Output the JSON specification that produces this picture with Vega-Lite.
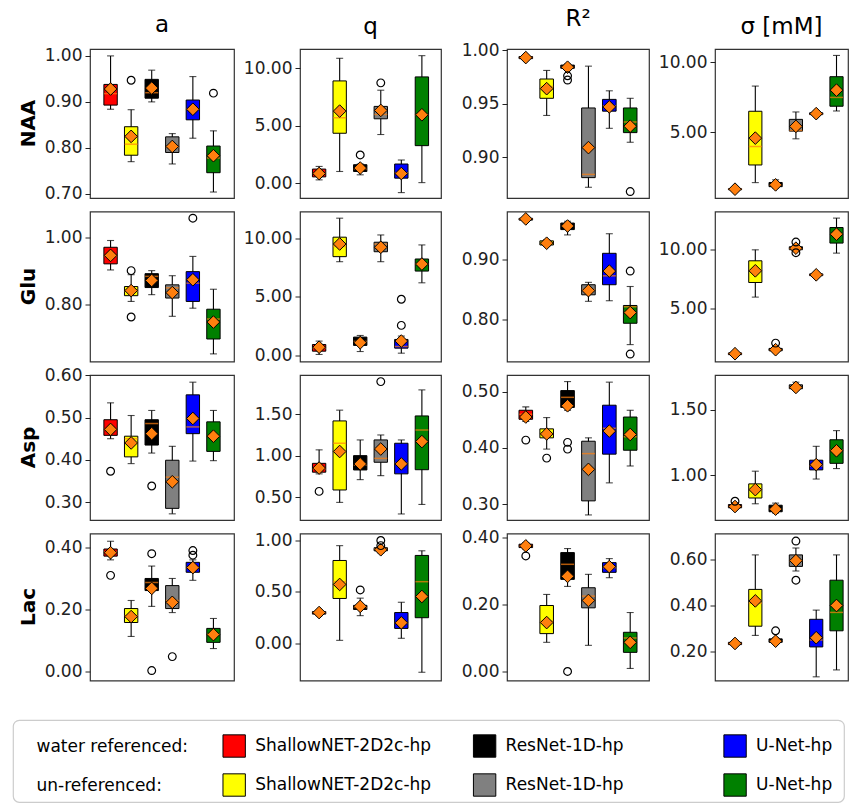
{
"$schema":"https://vega.github.io/schema/vega-lite/v6.json",
"padding":{"left":12,"top":7,"right":0,"bottom":3},
"data":{"values":[
{"an":"NAA","m":"a","k":"W-SN","lo":0.884,"q1":0.893,"md":0.918,"q3":0.938,"hi":1.0,"mn":0.928},
{"an":"NAA","m":"a","k":"U-SN","lo":0.770,"q1":0.784,"md":0.808,"q3":0.846,"hi":0.883,"mn":0.825},
{"an":"NAA","m":"a","k":"W-RN","lo":0.900,"q1":0.908,"md":0.920,"q3":0.949,"hi":0.969,"mn":0.930},
{"an":"NAA","m":"a","k":"U-RN","lo":0.765,"q1":0.790,"md":0.802,"q3":0.824,"hi":0.831,"mn":0.803},
{"an":"NAA","m":"a","k":"W-UN","lo":0.821,"q1":0.861,"md":0.884,"q3":0.904,"hi":0.955,"mn":0.884},
{"an":"NAA","m":"a","k":"U-UN","lo":0.704,"q1":0.746,"md":0.778,"q3":0.804,"hi":0.837,"mn":0.783},
{"an":"NAA","m":"a","k":"U-SN","v":0.947},
{"an":"NAA","m":"a","k":"U-UN","v":0.919},
{"an":"NAA","m":"q","k":"W-SN","lo":0.29,"q1":0.55,"md":0.85,"q3":1.23,"hi":1.46,"mn":0.84},
{"an":"NAA","m":"q","k":"U-SN","lo":1.02,"q1":4.35,"md":5.70,"q3":8.91,"hi":10.88,"mn":6.28},
{"an":"NAA","m":"q","k":"W-RN","lo":0.73,"q1":1.02,"md":1.25,"q3":1.61,"hi":1.67,"mn":1.32},
{"an":"NAA","m":"q","k":"U-RN","lo":4.24,"q1":5.61,"md":5.99,"q3":6.69,"hi":8.10,"mn":6.34},
{"an":"NAA","m":"q","k":"W-UN","lo":-0.82,"q1":0.44,"md":0.90,"q3":1.67,"hi":2.02,"mn":0.84},
{"an":"NAA","m":"q","k":"U-UN","lo":0.05,"q1":3.27,"md":5.96,"q3":9.26,"hi":11.11,"mn":5.96},
{"an":"NAA","m":"q","k":"W-RN","v":2.46},
{"an":"NAA","m":"q","k":"U-RN","v":8.74},
{"an":"NAA","m":"R2","k":"W-SN","lo":0.991,"q1":0.992,"md":0.993,"q3":0.994,"hi":0.995,"mn":0.993},
{"an":"NAA","m":"R2","k":"U-SN","lo":0.939,"q1":0.955,"md":0.966,"q3":0.973,"hi":0.981,"mn":0.964},
{"an":"NAA","m":"R2","k":"W-RN","lo":0.982,"q1":0.983,"md":0.984,"q3":0.986,"hi":0.987,"mn":0.984},
{"an":"NAA","m":"R2","k":"U-RN","lo":0.872,"q1":0.881,"md":0.884,"q3":0.946,"hi":0.985,"mn":0.909},
{"an":"NAA","m":"R2","k":"W-UN","lo":0.927,"q1":0.943,"md":0.948,"q3":0.954,"hi":0.962,"mn":0.947},
{"an":"NAA","m":"R2","k":"U-UN","lo":0.914,"q1":0.923,"md":0.933,"q3":0.946,"hi":0.955,"mn":0.929},
{"an":"NAA","m":"R2","k":"W-RN","v":0.976},
{"an":"NAA","m":"R2","k":"W-RN","v":0.972},
{"an":"NAA","m":"R2","k":"U-UN","v":0.868},
{"an":"NAA","m":"s","k":"W-SN","lo":0.85,"q1":0.88,"md":0.92,"q3":0.96,"hi":1.0,"mn":0.92},
{"an":"NAA","m":"s","k":"U-SN","lo":1.39,"q1":2.65,"md":3.97,"q3":6.49,"hi":8.29,"mn":4.57},
{"an":"NAA","m":"s","k":"W-RN","lo":1.0,"q1":1.1,"md":1.2,"q3":1.4,"hi":1.59,"mn":1.23},
{"an":"NAA","m":"s","k":"U-RN","lo":4.52,"q1":5.07,"md":5.12,"q3":5.91,"hi":6.44,"mn":5.41},
{"an":"NAA","m":"s","k":"W-UN","lo":6.2,"q1":6.25,"md":6.3,"q3":6.38,"hi":6.42,"mn":6.32},
{"an":"NAA","m":"s","k":"U-UN","lo":6.51,"q1":6.85,"md":7.48,"q3":8.96,"hi":10.48,"mn":8.0},
{"an":"Glu","m":"a","k":"W-SN","lo":0.903,"q1":0.921,"md":0.945,"q3":0.970,"hi":0.990,"mn":0.946},
{"an":"Glu","m":"a","k":"U-SN","lo":0.810,"q1":0.827,"md":0.840,"q3":0.854,"hi":0.889,"mn":0.842},
{"an":"Glu","m":"a","k":"W-RN","lo":0.830,"q1":0.851,"md":0.884,"q3":0.892,"hi":0.901,"mn":0.872},
{"an":"Glu","m":"a","k":"U-RN","lo":0.766,"q1":0.820,"md":0.850,"q3":0.859,"hi":0.886,"mn":0.836},
{"an":"Glu","m":"a","k":"W-UN","lo":0.790,"q1":0.810,"md":0.864,"q3":0.898,"hi":0.943,"mn":0.874},
{"an":"Glu","m":"a","k":"U-UN","lo":0.655,"q1":0.699,"md":0.758,"q3":0.787,"hi":0.846,"mn":0.749},
{"an":"Glu","m":"a","k":"U-SN","v":0.901},
{"an":"Glu","m":"a","k":"U-SN","v":0.764},
{"an":"Glu","m":"a","k":"W-UN","v":1.056},
{"an":"Glu","m":"q","k":"W-SN","lo":0.09,"q1":0.37,"md":0.65,"q3":0.94,"hi":1.23,"mn":0.71},
{"an":"Glu","m":"q","k":"U-SN","lo":8.0,"q1":8.43,"md":9.3,"q3":10.09,"hi":11.71,"mn":9.51},
{"an":"Glu","m":"q","k":"W-RN","lo":0.34,"q1":0.86,"md":1.2,"q3":1.57,"hi":1.71,"mn":1.09},
{"an":"Glu","m":"q","k":"U-RN","lo":8.0,"q1":8.85,"md":9.5,"q3":9.66,"hi":10.28,"mn":9.23},
{"an":"Glu","m":"q","k":"W-UN","lo":0.20,"q1":0.63,"md":0.77,"q3":1.37,"hi":1.66,"mn":1.23},
{"an":"Glu","m":"q","k":"U-UN","lo":6.2,"q1":7.2,"md":7.8,"q3":8.23,"hi":9.43,"mn":7.80},
{"an":"Glu","m":"q","k":"W-UN","v":4.80},
{"an":"Glu","m":"q","k":"W-UN","v":2.57},
{"an":"Glu","m":"R2","k":"W-SN","lo":0.966,"q1":0.967,"md":0.969,"q3":0.970,"hi":0.971,"mn":0.969},
{"an":"Glu","m":"R2","k":"U-SN","lo":0.923,"q1":0.925,"md":0.928,"q3":0.932,"hi":0.934,"mn":0.928},
{"an":"Glu","m":"R2","k":"W-RN","lo":0.942,"q1":0.951,"md":0.957,"q3":0.962,"hi":0.965,"mn":0.957},
{"an":"Glu","m":"R2","k":"U-RN","lo":0.830,"q1":0.841,"md":0.850,"q3":0.858,"hi":0.862,"mn":0.848},
{"an":"Glu","m":"R2","k":"W-UN","lo":0.831,"q1":0.858,"md":0.873,"q3":0.911,"hi":0.944,"mn":0.881},
{"an":"Glu","m":"R2","k":"U-UN","lo":0.757,"q1":0.793,"md":0.821,"q3":0.823,"hi":0.855,"mn":0.811},
{"an":"Glu","m":"R2","k":"U-UN","v":0.881},
{"an":"Glu","m":"R2","k":"U-UN","v":0.741},
{"an":"Glu","m":"s","k":"W-SN","lo":1.0,"q1":1.05,"md":1.13,"q3":1.2,"hi":1.25,"mn":1.13},
{"an":"Glu","m":"s","k":"U-SN","lo":5.93,"q1":7.17,"md":8.2,"q3":9.01,"hi":9.94,"mn":8.16},
{"an":"Glu","m":"s","k":"W-RN","lo":1.3,"q1":1.38,"md":1.47,"q3":1.58,"hi":1.65,"mn":1.47},
{"an":"Glu","m":"s","k":"U-RN","lo":9.85,"q1":9.95,"md":10.05,"q3":10.2,"hi":10.3,"mn":10.08},
{"an":"Glu","m":"s","k":"W-UN","lo":7.7,"q1":7.75,"md":7.82,"q3":7.9,"hi":7.95,"mn":7.82},
{"an":"Glu","m":"s","k":"U-UN","lo":9.66,"q1":10.51,"md":11.3,"q3":11.83,"hi":12.63,"mn":11.27},
{"an":"Glu","m":"s","k":"W-RN","v":2.03},
{"an":"Glu","m":"s","k":"U-RN","v":10.6},
{"an":"Glu","m":"s","k":"U-RN","v":9.7},
{"an":"Asp","m":"a","k":"W-SN","lo":0.450,"q1":0.458,"md":0.472,"q3":0.495,"hi":0.535,"mn":0.472},
{"an":"Asp","m":"a","k":"U-SN","lo":0.391,"q1":0.407,"md":0.450,"q3":0.456,"hi":0.505,"mn":0.440},
{"an":"Asp","m":"a","k":"W-RN","lo":0.416,"q1":0.435,"md":0.486,"q3":0.495,"hi":0.517,"mn":0.462},
{"an":"Asp","m":"a","k":"U-RN","lo":0.272,"q1":0.285,"md":0.359,"q3":0.399,"hi":0.432,"mn":0.348},
{"an":"Asp","m":"a","k":"W-UN","lo":0.397,"q1":0.462,"md":0.478,"q3":0.554,"hi":0.584,"mn":0.498},
{"an":"Asp","m":"a","k":"U-UN","lo":0.398,"q1":0.420,"md":0.456,"q3":0.490,"hi":0.517,"mn":0.456},
{"an":"Asp","m":"a","k":"W-SN","v":0.373},
{"an":"Asp","m":"a","k":"W-RN","v":0.338},
{"an":"Asp","m":"q","k":"W-SN","lo":0.78,"q1":0.80,"md":0.84,"q3":0.907,"hi":1.07,"mn":0.85},
{"an":"Asp","m":"q","k":"U-SN","lo":0.435,"q1":0.585,"md":1.15,"q3":1.42,"hi":1.55,"mn":1.05},
{"an":"Asp","m":"q","k":"W-RN","lo":0.71,"q1":0.827,"md":0.887,"q3":1.0,"hi":1.19,"mn":0.90},
{"an":"Asp","m":"q","k":"U-RN","lo":0.758,"q1":0.92,"md":0.967,"q3":1.19,"hi":1.25,"mn":1.08},
{"an":"Asp","m":"q","k":"W-UN","lo":0.295,"q1":0.78,"md":0.907,"q3":1.15,"hi":1.19,"mn":0.90},
{"an":"Asp","m":"q","k":"U-UN","lo":0.41,"q1":0.83,"md":1.31,"q3":1.48,"hi":1.795,"mn":1.17},
{"an":"Asp","m":"q","k":"W-SN","v":0.568},
{"an":"Asp","m":"q","k":"U-RN","v":1.895},
{"an":"Asp","m":"R2","k":"W-SN","lo":0.447,"q1":0.451,"md":0.460,"q3":0.467,"hi":0.473,"mn":0.455},
{"an":"Asp","m":"R2","k":"U-SN","lo":0.398,"q1":0.418,"md":0.425,"q3":0.434,"hi":0.454,"mn":0.425},
{"an":"Asp","m":"R2","k":"W-RN","lo":0.467,"q1":0.472,"md":0.490,"q3":0.502,"hi":0.518,"mn":0.475},
{"an":"Asp","m":"R2","k":"U-RN","lo":0.281,"q1":0.306,"md":0.390,"q3":0.412,"hi":0.418,"mn":0.362},
{"an":"Asp","m":"R2","k":"W-UN","lo":0.338,"q1":0.389,"md":0.435,"q3":0.476,"hi":0.517,"mn":0.430},
{"an":"Asp","m":"R2","k":"U-UN","lo":0.368,"q1":0.396,"md":0.420,"q3":0.455,"hi":0.467,"mn":0.424},
{"an":"Asp","m":"R2","k":"W-SN","v":0.414},
{"an":"Asp","m":"R2","k":"U-SN","v":0.382},
{"an":"Asp","m":"R2","k":"W-RN","v":0.410},
{"an":"Asp","m":"R2","k":"W-RN","v":0.398},
{"an":"Asp","m":"s","k":"W-SN","lo":0.745,"q1":0.75,"md":0.76,"q3":0.775,"hi":0.785,"mn":0.76},
{"an":"Asp","m":"s","k":"U-SN","lo":0.781,"q1":0.825,"md":0.89,"q3":0.933,"hi":1.03,"mn":0.889},
{"an":"Asp","m":"s","k":"W-RN","lo":0.71,"q1":0.72,"md":0.74,"q3":0.77,"hi":0.786,"mn":0.74},
{"an":"Asp","m":"s","k":"U-RN","lo":1.65,"q1":1.66,"md":1.67,"q3":1.69,"hi":1.71,"mn":1.67},
{"an":"Asp","m":"s","k":"W-UN","lo":0.97,"q1":1.04,"md":1.07,"q3":1.114,"hi":1.22,"mn":1.08},
{"an":"Asp","m":"s","k":"U-UN","lo":1.05,"q1":1.09,"md":1.19,"q3":1.27,"hi":1.34,"mn":1.186},
{"an":"Asp","m":"s","k":"W-SN","v":0.80},
{"an":"Lac","m":"a","k":"W-SN","lo":0.36,"q1":0.372,"md":0.385,"q3":0.395,"hi":0.42,"mn":0.383},
{"an":"Lac","m":"a","k":"U-SN","lo":0.113,"q1":0.158,"md":0.18,"q3":0.203,"hi":0.229,"mn":0.177},
{"an":"Lac","m":"a","k":"W-RN","lo":0.21,"q1":0.261,"md":0.287,"q3":0.30,"hi":0.34,"mn":0.268},
{"an":"Lac","m":"a","k":"U-RN","lo":0.19,"q1":0.203,"md":0.229,"q3":0.277,"hi":0.30,"mn":0.223},
{"an":"Lac","m":"a","k":"W-UN","lo":0.294,"q1":0.32,"md":0.335,"q3":0.352,"hi":0.36,"mn":0.335},
{"an":"Lac","m":"a","k":"U-UN","lo":0.074,"q1":0.094,"md":0.12,"q3":0.139,"hi":0.171,"mn":0.119},
{"an":"Lac","m":"a","k":"W-SN","v":0.31},
{"an":"Lac","m":"a","k":"W-RN","v":0.38},
{"an":"Lac","m":"a","k":"W-RN","v":0.003},
{"an":"Lac","m":"a","k":"U-RN","v":0.048},
{"an":"Lac","m":"a","k":"W-UN","v":0.39},
{"an":"Lac","m":"a","k":"W-UN","v":0.375},
{"an":"Lac","m":"q","k":"W-SN","lo":0.27,"q1":0.285,"md":0.30,"q3":0.31,"hi":0.32,"mn":0.30},
{"an":"Lac","m":"q","k":"U-SN","lo":0.03,"q1":0.437,"md":0.6,"q3":0.806,"hi":0.95,"mn":0.573},
{"an":"Lac","m":"q","k":"W-RN","lo":0.27,"q1":0.33,"md":0.35,"q3":0.37,"hi":0.44,"mn":0.36},
{"an":"Lac","m":"q","k":"U-RN","lo":0.88,"q1":0.90,"md":0.915,"q3":0.93,"hi":0.94,"mn":0.91},
{"an":"Lac","m":"q","k":"W-UN","lo":0.05,"q1":0.146,"md":0.2,"q3":0.30,"hi":0.40,"mn":0.20},
{"an":"Lac","m":"q","k":"U-UN","lo":-0.28,"q1":0.25,"md":0.6,"q3":0.855,"hi":0.90,"mn":0.456},
{"an":"Lac","m":"q","k":"W-RN","v":0.52},
{"an":"Lac","m":"q","k":"U-RN","v":1.0},
{"an":"Lac","m":"q","k":"U-RN","v":0.95},
{"an":"Lac","m":"R2","k":"W-SN","lo":0.365,"q1":0.37,"md":0.375,"q3":0.38,"hi":0.385,"mn":0.375},
{"an":"Lac","m":"R2","k":"U-SN","lo":0.087,"q1":0.113,"md":0.15,"q3":0.197,"hi":0.23,"mn":0.146},
{"an":"Lac","m":"R2","k":"W-RN","lo":0.254,"q1":0.275,"md":0.32,"q3":0.355,"hi":0.367,"mn":0.284},
{"an":"Lac","m":"R2","k":"U-RN","lo":0.078,"q1":0.19,"md":0.225,"q3":0.25,"hi":0.29,"mn":0.212},
{"an":"Lac","m":"R2","k":"W-UN","lo":0.28,"q1":0.296,"md":0.31,"q3":0.325,"hi":0.337,"mn":0.313},
{"an":"Lac","m":"R2","k":"U-UN","lo":0.009,"q1":0.057,"md":0.1,"q3":0.117,"hi":0.176,"mn":0.087},
{"an":"Lac","m":"R2","k":"W-SN","v":0.345},
{"an":"Lac","m":"R2","k":"W-RN","v":0.0},
{"an":"Lac","m":"s","k":"W-SN","lo":0.225,"q1":0.23,"md":0.235,"q3":0.24,"hi":0.245,"mn":0.235},
{"an":"Lac","m":"s","k":"U-SN","lo":0.27,"q1":0.31,"md":0.41,"q3":0.47,"hi":0.62,"mn":0.42},
{"an":"Lac","m":"s","k":"W-RN","lo":0.235,"q1":0.24,"md":0.245,"q3":0.255,"hi":0.26,"mn":0.245},
{"an":"Lac","m":"s","k":"U-RN","lo":0.55,"q1":0.57,"md":0.595,"q3":0.62,"hi":0.65,"mn":0.595},
{"an":"Lac","m":"s","k":"W-UN","lo":0.09,"q1":0.22,"md":0.25,"q3":0.34,"hi":0.38,"mn":0.26},
{"an":"Lac","m":"s","k":"U-UN","lo":0.12,"q1":0.29,"md":0.37,"q3":0.51,"hi":0.62,"mn":0.40},
{"an":"Lac","m":"s","k":"W-RN","v":0.29},
{"an":"Lac","m":"s","k":"U-RN","v":0.68},
{"an":"Lac","m":"s","k":"U-RN","v":0.51}
]},
"spacing":37,
"vconcat":[
{"columns":5,"align":"each","bounds":"flush","spacing":{"row":13.5,"column":66},
"concat":[
{"width":11,"height":149,"view":{"stroke":null},"data":{"values":[{"t":"NAA"}]},"mark":{"type":"text","angle":270,"fontSize":20,"fontWeight":"bold","baseline":"top","align":"center","color":"#000"},"encoding":{"text":{"field":"t","type":"nominal"}}},
{"width":144,"height":149,"title":{"text":"a"},"transform":[{"filter":"datum.an=='NAA'&&datum.m=='a'"}],
"encoding":{"x":{"field":"k","type":"nominal","scale":{"domain":["W-SN","U-SN","W-RN","U-RN","W-UN","U-UN"],"paddingInner":0,"paddingOuter":0.5},"axis":null}},
"layer":[
{"mark":{"type":"rule","color":"#000","strokeWidth":1.1},"encoding":{"y":{"field":"lo","type":"quantitative","scale":{"domain":[0.691,1.015],"nice":false,"zero":false},"axis":{"values":[0.7,0.8,0.9,1.0],"title":null}},"y2":{"field":"hi"}}},
{"mark":{"type":"tick","color":"#000","size":7,"thickness":1.1},"encoding":{"y":{"field":"lo","type":"quantitative"}}},
{"mark":{"type":"tick","color":"#000","size":7,"thickness":1.1},"encoding":{"y":{"field":"hi","type":"quantitative"}}},
{"mark":{"type":"bar","width":{"band":0.65},"stroke":"#000","strokeWidth":1},"encoding":{"y":{"field":"q1","type":"quantitative"},"y2":{"field":"q3"},"fill":{"field":"k","type":"nominal","scale":{"domain":["W-SN","U-SN","W-RN","U-RN","W-UN","U-UN"],"range":["#ff0000","#ffff00","#000000","#808080","#0000ff","#008000"]},"legend":null}}},
{"mark":{"type":"tick","color":"#ff7f0e","size":13,"thickness":1.5},"encoding":{"y":{"field":"md","type":"quantitative"}}},
{"mark":{"type":"point","shape":"diamond","filled":true,"fill":"#ff7f0e","stroke":"#000","strokeWidth":1,"size":160,"opacity":1},"encoding":{"y":{"field":"mn","type":"quantitative"}}},
{"mark":{"type":"point","shape":"circle","filled":false,"stroke":"#000","strokeWidth":1.2,"size":60,"opacity":1},"encoding":{"y":{"field":"v","type":"quantitative"}}}
]},
{"width":141,"height":149,"title":{"text":"q"},"transform":[{"filter":"datum.an=='NAA'&&datum.m=='q'"}],
"encoding":{"x":{"field":"k","type":"nominal","scale":{"domain":["W-SN","U-SN","W-RN","U-RN","W-UN","U-UN"],"paddingInner":0,"paddingOuter":0.43},"axis":null}},
"layer":[
{"mark":{"type":"rule","color":"#000","strokeWidth":1.1},"encoding":{"y":{"field":"lo","type":"quantitative","scale":{"domain":[-1.29,11.69],"nice":false,"zero":false},"axis":{"values":[0,5,10],"title":null}},"y2":{"field":"hi"}}},
{"mark":{"type":"tick","color":"#000","size":7,"thickness":1.1},"encoding":{"y":{"field":"lo","type":"quantitative"}}},
{"mark":{"type":"tick","color":"#000","size":7,"thickness":1.1},"encoding":{"y":{"field":"hi","type":"quantitative"}}},
{"mark":{"type":"bar","width":{"band":0.65},"stroke":"#000","strokeWidth":1},"encoding":{"y":{"field":"q1","type":"quantitative"},"y2":{"field":"q3"},"fill":{"field":"k","type":"nominal","scale":{"domain":["W-SN","U-SN","W-RN","U-RN","W-UN","U-UN"],"range":["#ff0000","#ffff00","#000000","#808080","#0000ff","#008000"]},"legend":null}}},
{"mark":{"type":"tick","color":"#ff7f0e","size":13,"thickness":1.5},"encoding":{"y":{"field":"md","type":"quantitative"}}},
{"mark":{"type":"point","shape":"diamond","filled":true,"fill":"#ff7f0e","stroke":"#000","strokeWidth":1,"size":160,"opacity":1},"encoding":{"y":{"field":"mn","type":"quantitative"}}},
{"mark":{"type":"point","shape":"circle","filled":false,"stroke":"#000","strokeWidth":1.2,"size":60,"opacity":1},"encoding":{"y":{"field":"v","type":"quantitative"}}}
]},
{"width":142,"height":149,"title":{"text":"R²"},"transform":[{"filter":"datum.an=='NAA'&&datum.m=='R2'"}],
"encoding":{"x":{"field":"k","type":"nominal","scale":{"domain":["W-SN","U-SN","W-RN","U-RN","W-UN","U-UN"],"paddingInner":0,"paddingOuter":0.4},"axis":null}},
"layer":[
{"mark":{"type":"rule","color":"#000","strokeWidth":1.1},"encoding":{"y":{"field":"lo","type":"quantitative","scale":{"domain":[0.862,1.001],"nice":false,"zero":false},"axis":{"values":[0.9,0.95,1.0],"title":null}},"y2":{"field":"hi"}}},
{"mark":{"type":"tick","color":"#000","size":7,"thickness":1.1},"encoding":{"y":{"field":"lo","type":"quantitative"}}},
{"mark":{"type":"tick","color":"#000","size":7,"thickness":1.1},"encoding":{"y":{"field":"hi","type":"quantitative"}}},
{"mark":{"type":"bar","width":{"band":0.65},"stroke":"#000","strokeWidth":1},"encoding":{"y":{"field":"q1","type":"quantitative"},"y2":{"field":"q3"},"fill":{"field":"k","type":"nominal","scale":{"domain":["W-SN","U-SN","W-RN","U-RN","W-UN","U-UN"],"range":["#ff0000","#ffff00","#000000","#808080","#0000ff","#008000"]},"legend":null}}},
{"mark":{"type":"tick","color":"#ff7f0e","size":13,"thickness":1.5},"encoding":{"y":{"field":"md","type":"quantitative"}}},
{"mark":{"type":"point","shape":"diamond","filled":true,"fill":"#ff7f0e","stroke":"#000","strokeWidth":1,"size":160,"opacity":1},"encoding":{"y":{"field":"mn","type":"quantitative"}}},
{"mark":{"type":"point","shape":"circle","filled":false,"stroke":"#000","strokeWidth":1.2,"size":60,"opacity":1},"encoding":{"y":{"field":"v","type":"quantitative"}}}
]},
{"width":133,"height":149,"title":{"text":"σ [mM]"},"transform":[{"filter":"datum.an=='NAA'&&datum.m=='s'"}],
"encoding":{"x":{"field":"k","type":"nominal","scale":{"domain":["W-SN","U-SN","W-RN","U-RN","W-UN","U-UN"],"paddingInner":0,"paddingOuter":0.276,"align":0.88},"axis":null}},
"layer":[
{"mark":{"type":"rule","color":"#000","strokeWidth":1.1},"encoding":{"y":{"field":"lo","type":"quantitative","scale":{"domain":[0.29,10.94],"nice":false,"zero":false},"axis":{"values":[5,10],"title":null}},"y2":{"field":"hi"}}},
{"mark":{"type":"tick","color":"#000","size":7,"thickness":1.1},"encoding":{"y":{"field":"lo","type":"quantitative"}}},
{"mark":{"type":"tick","color":"#000","size":7,"thickness":1.1},"encoding":{"y":{"field":"hi","type":"quantitative"}}},
{"mark":{"type":"bar","width":{"band":0.65},"stroke":"#000","strokeWidth":1},"encoding":{"y":{"field":"q1","type":"quantitative"},"y2":{"field":"q3"},"fill":{"field":"k","type":"nominal","scale":{"domain":["W-SN","U-SN","W-RN","U-RN","W-UN","U-UN"],"range":["#ff0000","#ffff00","#000000","#808080","#0000ff","#008000"]},"legend":null}}},
{"mark":{"type":"tick","color":"#ff7f0e","size":13,"thickness":1.5},"encoding":{"y":{"field":"md","type":"quantitative"}}},
{"mark":{"type":"point","shape":"diamond","filled":true,"fill":"#ff7f0e","stroke":"#000","strokeWidth":1,"size":160,"opacity":1},"encoding":{"y":{"field":"mn","type":"quantitative"}}},
{"mark":{"type":"point","shape":"circle","filled":false,"stroke":"#000","strokeWidth":1.2,"size":60,"opacity":1},"encoding":{"y":{"field":"v","type":"quantitative"}}}
]},
{"width":11,"height":150,"view":{"stroke":null},"data":{"values":[{"t":"Glu"}]},"mark":{"type":"text","angle":270,"fontSize":20,"fontWeight":"bold","baseline":"top","align":"center","color":"#000"},"encoding":{"text":{"field":"t","type":"nominal"}}},
{"width":144,"height":150,"transform":[{"filter":"datum.an=='Glu'&&datum.m=='a'"}],
"encoding":{"x":{"field":"k","type":"nominal","scale":{"domain":["W-SN","U-SN","W-RN","U-RN","W-UN","U-UN"],"paddingInner":0,"paddingOuter":0.5},"axis":null}},
"layer":[
{"mark":{"type":"rule","color":"#000","strokeWidth":1.1},"encoding":{"y":{"field":"lo","type":"quantitative","scale":{"domain":[0.6325,1.0757],"nice":false,"zero":false},"axis":{"values":[0.8,1.0],"title":null}},"y2":{"field":"hi"}}},
{"mark":{"type":"tick","color":"#000","size":7,"thickness":1.1},"encoding":{"y":{"field":"lo","type":"quantitative"}}},
{"mark":{"type":"tick","color":"#000","size":7,"thickness":1.1},"encoding":{"y":{"field":"hi","type":"quantitative"}}},
{"mark":{"type":"bar","width":{"band":0.65},"stroke":"#000","strokeWidth":1},"encoding":{"y":{"field":"q1","type":"quantitative"},"y2":{"field":"q3"},"fill":{"field":"k","type":"nominal","scale":{"domain":["W-SN","U-SN","W-RN","U-RN","W-UN","U-UN"],"range":["#ff0000","#ffff00","#000000","#808080","#0000ff","#008000"]},"legend":null}}},
{"mark":{"type":"tick","color":"#ff7f0e","size":13,"thickness":1.5},"encoding":{"y":{"field":"md","type":"quantitative"}}},
{"mark":{"type":"point","shape":"diamond","filled":true,"fill":"#ff7f0e","stroke":"#000","strokeWidth":1,"size":160,"opacity":1},"encoding":{"y":{"field":"mn","type":"quantitative"}}},
{"mark":{"type":"point","shape":"circle","filled":false,"stroke":"#000","strokeWidth":1.2,"size":60,"opacity":1},"encoding":{"y":{"field":"v","type":"quantitative"}}}
]},
{"width":141,"height":150,"transform":[{"filter":"datum.an=='Glu'&&datum.m=='q'"}],
"encoding":{"x":{"field":"k","type":"nominal","scale":{"domain":["W-SN","U-SN","W-RN","U-RN","W-UN","U-UN"],"paddingInner":0,"paddingOuter":0.43},"axis":null}},
"layer":[
{"mark":{"type":"rule","color":"#000","strokeWidth":1.1},"encoding":{"y":{"field":"lo","type":"quantitative","scale":{"domain":[-0.51,12.28],"nice":false,"zero":false},"axis":{"values":[0,5,10],"title":null}},"y2":{"field":"hi"}}},
{"mark":{"type":"tick","color":"#000","size":7,"thickness":1.1},"encoding":{"y":{"field":"lo","type":"quantitative"}}},
{"mark":{"type":"tick","color":"#000","size":7,"thickness":1.1},"encoding":{"y":{"field":"hi","type":"quantitative"}}},
{"mark":{"type":"bar","width":{"band":0.65},"stroke":"#000","strokeWidth":1},"encoding":{"y":{"field":"q1","type":"quantitative"},"y2":{"field":"q3"},"fill":{"field":"k","type":"nominal","scale":{"domain":["W-SN","U-SN","W-RN","U-RN","W-UN","U-UN"],"range":["#ff0000","#ffff00","#000000","#808080","#0000ff","#008000"]},"legend":null}}},
{"mark":{"type":"tick","color":"#ff7f0e","size":13,"thickness":1.5},"encoding":{"y":{"field":"md","type":"quantitative"}}},
{"mark":{"type":"point","shape":"diamond","filled":true,"fill":"#ff7f0e","stroke":"#000","strokeWidth":1,"size":160,"opacity":1},"encoding":{"y":{"field":"mn","type":"quantitative"}}},
{"mark":{"type":"point","shape":"circle","filled":false,"stroke":"#000","strokeWidth":1.2,"size":60,"opacity":1},"encoding":{"y":{"field":"v","type":"quantitative"}}}
]},
{"width":142,"height":150,"transform":[{"filter":"datum.an=='Glu'&&datum.m=='R2'"}],
"encoding":{"x":{"field":"k","type":"nominal","scale":{"domain":["W-SN","U-SN","W-RN","U-RN","W-UN","U-UN"],"paddingInner":0,"paddingOuter":0.4},"axis":null}},
"layer":[
{"mark":{"type":"rule","color":"#000","strokeWidth":1.1},"encoding":{"y":{"field":"lo","type":"quantitative","scale":{"domain":[0.7285,0.9815],"nice":false,"zero":false},"axis":{"values":[0.8,0.9],"title":null}},"y2":{"field":"hi"}}},
{"mark":{"type":"tick","color":"#000","size":7,"thickness":1.1},"encoding":{"y":{"field":"lo","type":"quantitative"}}},
{"mark":{"type":"tick","color":"#000","size":7,"thickness":1.1},"encoding":{"y":{"field":"hi","type":"quantitative"}}},
{"mark":{"type":"bar","width":{"band":0.65},"stroke":"#000","strokeWidth":1},"encoding":{"y":{"field":"q1","type":"quantitative"},"y2":{"field":"q3"},"fill":{"field":"k","type":"nominal","scale":{"domain":["W-SN","U-SN","W-RN","U-RN","W-UN","U-UN"],"range":["#ff0000","#ffff00","#000000","#808080","#0000ff","#008000"]},"legend":null}}},
{"mark":{"type":"tick","color":"#ff7f0e","size":13,"thickness":1.5},"encoding":{"y":{"field":"md","type":"quantitative"}}},
{"mark":{"type":"point","shape":"diamond","filled":true,"fill":"#ff7f0e","stroke":"#000","strokeWidth":1,"size":160,"opacity":1},"encoding":{"y":{"field":"mn","type":"quantitative"}}},
{"mark":{"type":"point","shape":"circle","filled":false,"stroke":"#000","strokeWidth":1.2,"size":60,"opacity":1},"encoding":{"y":{"field":"v","type":"quantitative"}}}
]},
{"width":133,"height":150,"transform":[{"filter":"datum.an=='Glu'&&datum.m=='s'"}],
"encoding":{"x":{"field":"k","type":"nominal","scale":{"domain":["W-SN","U-SN","W-RN","U-RN","W-UN","U-UN"],"paddingInner":0,"paddingOuter":0.276,"align":0.88},"axis":null}},
"layer":[
{"mark":{"type":"rule","color":"#000","strokeWidth":1.1},"encoding":{"y":{"field":"lo","type":"quantitative","scale":{"domain":[0.47,13.19],"nice":false,"zero":false},"axis":{"values":[5,10],"title":null}},"y2":{"field":"hi"}}},
{"mark":{"type":"tick","color":"#000","size":7,"thickness":1.1},"encoding":{"y":{"field":"lo","type":"quantitative"}}},
{"mark":{"type":"tick","color":"#000","size":7,"thickness":1.1},"encoding":{"y":{"field":"hi","type":"quantitative"}}},
{"mark":{"type":"bar","width":{"band":0.65},"stroke":"#000","strokeWidth":1},"encoding":{"y":{"field":"q1","type":"quantitative"},"y2":{"field":"q3"},"fill":{"field":"k","type":"nominal","scale":{"domain":["W-SN","U-SN","W-RN","U-RN","W-UN","U-UN"],"range":["#ff0000","#ffff00","#000000","#808080","#0000ff","#008000"]},"legend":null}}},
{"mark":{"type":"tick","color":"#ff7f0e","size":13,"thickness":1.5},"encoding":{"y":{"field":"md","type":"quantitative"}}},
{"mark":{"type":"point","shape":"diamond","filled":true,"fill":"#ff7f0e","stroke":"#000","strokeWidth":1,"size":160,"opacity":1},"encoding":{"y":{"field":"mn","type":"quantitative"}}},
{"mark":{"type":"point","shape":"circle","filled":false,"stroke":"#000","strokeWidth":1.2,"size":60,"opacity":1},"encoding":{"y":{"field":"v","type":"quantitative"}}}
]},
{"width":11,"height":145,"view":{"stroke":null},"data":{"values":[{"t":"Asp"}]},"mark":{"type":"text","angle":270,"fontSize":20,"fontWeight":"bold","baseline":"top","align":"center","color":"#000"},"encoding":{"text":{"field":"t","type":"nominal"}}},
{"width":144,"height":145,"transform":[{"filter":"datum.an=='Asp'&&datum.m=='a'"}],
"encoding":{"x":{"field":"k","type":"nominal","scale":{"domain":["W-SN","U-SN","W-RN","U-RN","W-UN","U-UN"],"paddingInner":0,"paddingOuter":0.5},"axis":null}},
"layer":[
{"mark":{"type":"rule","color":"#000","strokeWidth":1.1},"encoding":{"y":{"field":"lo","type":"quantitative","scale":{"domain":[0.2574,0.601],"nice":false,"zero":false},"axis":{"values":[0.3,0.4,0.5,0.6],"title":null}},"y2":{"field":"hi"}}},
{"mark":{"type":"tick","color":"#000","size":7,"thickness":1.1},"encoding":{"y":{"field":"lo","type":"quantitative"}}},
{"mark":{"type":"tick","color":"#000","size":7,"thickness":1.1},"encoding":{"y":{"field":"hi","type":"quantitative"}}},
{"mark":{"type":"bar","width":{"band":0.65},"stroke":"#000","strokeWidth":1},"encoding":{"y":{"field":"q1","type":"quantitative"},"y2":{"field":"q3"},"fill":{"field":"k","type":"nominal","scale":{"domain":["W-SN","U-SN","W-RN","U-RN","W-UN","U-UN"],"range":["#ff0000","#ffff00","#000000","#808080","#0000ff","#008000"]},"legend":null}}},
{"mark":{"type":"tick","color":"#ff7f0e","size":13,"thickness":1.5},"encoding":{"y":{"field":"md","type":"quantitative"}}},
{"mark":{"type":"point","shape":"diamond","filled":true,"fill":"#ff7f0e","stroke":"#000","strokeWidth":1,"size":160,"opacity":1},"encoding":{"y":{"field":"mn","type":"quantitative"}}},
{"mark":{"type":"point","shape":"circle","filled":false,"stroke":"#000","strokeWidth":1.2,"size":60,"opacity":1},"encoding":{"y":{"field":"v","type":"quantitative"}}}
]},
{"width":141,"height":145,"transform":[{"filter":"datum.an=='Asp'&&datum.m=='q'"}],
"encoding":{"x":{"field":"k","type":"nominal","scale":{"domain":["W-SN","U-SN","W-RN","U-RN","W-UN","U-UN"],"paddingInner":0,"paddingOuter":0.43},"axis":null}},
"layer":[
{"mark":{"type":"rule","color":"#000","strokeWidth":1.1},"encoding":{"y":{"field":"lo","type":"quantitative","scale":{"domain":[0.222,1.975],"nice":false,"zero":false},"axis":{"values":[0.5,1.0,1.5],"title":null}},"y2":{"field":"hi"}}},
{"mark":{"type":"tick","color":"#000","size":7,"thickness":1.1},"encoding":{"y":{"field":"lo","type":"quantitative"}}},
{"mark":{"type":"tick","color":"#000","size":7,"thickness":1.1},"encoding":{"y":{"field":"hi","type":"quantitative"}}},
{"mark":{"type":"bar","width":{"band":0.65},"stroke":"#000","strokeWidth":1},"encoding":{"y":{"field":"q1","type":"quantitative"},"y2":{"field":"q3"},"fill":{"field":"k","type":"nominal","scale":{"domain":["W-SN","U-SN","W-RN","U-RN","W-UN","U-UN"],"range":["#ff0000","#ffff00","#000000","#808080","#0000ff","#008000"]},"legend":null}}},
{"mark":{"type":"tick","color":"#ff7f0e","size":13,"thickness":1.5},"encoding":{"y":{"field":"md","type":"quantitative"}}},
{"mark":{"type":"point","shape":"diamond","filled":true,"fill":"#ff7f0e","stroke":"#000","strokeWidth":1,"size":160,"opacity":1},"encoding":{"y":{"field":"mn","type":"quantitative"}}},
{"mark":{"type":"point","shape":"circle","filled":false,"stroke":"#000","strokeWidth":1.2,"size":60,"opacity":1},"encoding":{"y":{"field":"v","type":"quantitative"}}}
]},
{"width":142,"height":145,"transform":[{"filter":"datum.an=='Asp'&&datum.m=='R2'"}],
"encoding":{"x":{"field":"k","type":"nominal","scale":{"domain":["W-SN","U-SN","W-RN","U-RN","W-UN","U-UN"],"paddingInner":0,"paddingOuter":0.4},"axis":null}},
"layer":[
{"mark":{"type":"rule","color":"#000","strokeWidth":1.1},"encoding":{"y":{"field":"lo","type":"quantitative","scale":{"domain":[0.272,0.5297],"nice":false,"zero":false},"axis":{"values":[0.3,0.4,0.5],"title":null}},"y2":{"field":"hi"}}},
{"mark":{"type":"tick","color":"#000","size":7,"thickness":1.1},"encoding":{"y":{"field":"lo","type":"quantitative"}}},
{"mark":{"type":"tick","color":"#000","size":7,"thickness":1.1},"encoding":{"y":{"field":"hi","type":"quantitative"}}},
{"mark":{"type":"bar","width":{"band":0.65},"stroke":"#000","strokeWidth":1},"encoding":{"y":{"field":"q1","type":"quantitative"},"y2":{"field":"q3"},"fill":{"field":"k","type":"nominal","scale":{"domain":["W-SN","U-SN","W-RN","U-RN","W-UN","U-UN"],"range":["#ff0000","#ffff00","#000000","#808080","#0000ff","#008000"]},"legend":null}}},
{"mark":{"type":"tick","color":"#ff7f0e","size":13,"thickness":1.5},"encoding":{"y":{"field":"md","type":"quantitative"}}},
{"mark":{"type":"point","shape":"diamond","filled":true,"fill":"#ff7f0e","stroke":"#000","strokeWidth":1,"size":160,"opacity":1},"encoding":{"y":{"field":"mn","type":"quantitative"}}},
{"mark":{"type":"point","shape":"circle","filled":false,"stroke":"#000","strokeWidth":1.2,"size":60,"opacity":1},"encoding":{"y":{"field":"v","type":"quantitative"}}}
]},
{"width":133,"height":145,"transform":[{"filter":"datum.an=='Asp'&&datum.m=='s'"}],
"encoding":{"x":{"field":"k","type":"nominal","scale":{"domain":["W-SN","U-SN","W-RN","U-RN","W-UN","U-UN"],"paddingInner":0,"paddingOuter":0.276,"align":0.88},"axis":null}},
"layer":[
{"mark":{"type":"rule","color":"#000","strokeWidth":1.1},"encoding":{"y":{"field":"lo","type":"quantitative","scale":{"domain":[0.657,1.765],"nice":false,"zero":false},"axis":{"values":[1.0,1.5],"title":null}},"y2":{"field":"hi"}}},
{"mark":{"type":"tick","color":"#000","size":7,"thickness":1.1},"encoding":{"y":{"field":"lo","type":"quantitative"}}},
{"mark":{"type":"tick","color":"#000","size":7,"thickness":1.1},"encoding":{"y":{"field":"hi","type":"quantitative"}}},
{"mark":{"type":"bar","width":{"band":0.65},"stroke":"#000","strokeWidth":1},"encoding":{"y":{"field":"q1","type":"quantitative"},"y2":{"field":"q3"},"fill":{"field":"k","type":"nominal","scale":{"domain":["W-SN","U-SN","W-RN","U-RN","W-UN","U-UN"],"range":["#ff0000","#ffff00","#000000","#808080","#0000ff","#008000"]},"legend":null}}},
{"mark":{"type":"tick","color":"#ff7f0e","size":13,"thickness":1.5},"encoding":{"y":{"field":"md","type":"quantitative"}}},
{"mark":{"type":"point","shape":"diamond","filled":true,"fill":"#ff7f0e","stroke":"#000","strokeWidth":1,"size":160,"opacity":1},"encoding":{"y":{"field":"mn","type":"quantitative"}}},
{"mark":{"type":"point","shape":"circle","filled":false,"stroke":"#000","strokeWidth":1.2,"size":60,"opacity":1},"encoding":{"y":{"field":"v","type":"quantitative"}}}
]},
{"width":11,"height":147,"view":{"stroke":null},"data":{"values":[{"t":"Lac"}]},"mark":{"type":"text","angle":270,"fontSize":20,"fontWeight":"bold","baseline":"top","align":"center","color":"#000"},"encoding":{"text":{"field":"t","type":"nominal"}}},
{"width":144,"height":147,"transform":[{"filter":"datum.an=='Lac'&&datum.m=='a'"}],
"encoding":{"x":{"field":"k","type":"nominal","scale":{"domain":["W-SN","U-SN","W-RN","U-RN","W-UN","U-UN"],"paddingInner":0,"paddingOuter":0.5},"axis":null}},
"layer":[
{"mark":{"type":"rule","color":"#000","strokeWidth":1.1},"encoding":{"y":{"field":"lo","type":"quantitative","scale":{"domain":[-0.029,0.445],"nice":false,"zero":false},"axis":{"values":[0.0,0.2,0.4],"title":null}},"y2":{"field":"hi"}}},
{"mark":{"type":"tick","color":"#000","size":7,"thickness":1.1},"encoding":{"y":{"field":"lo","type":"quantitative"}}},
{"mark":{"type":"tick","color":"#000","size":7,"thickness":1.1},"encoding":{"y":{"field":"hi","type":"quantitative"}}},
{"mark":{"type":"bar","width":{"band":0.65},"stroke":"#000","strokeWidth":1},"encoding":{"y":{"field":"q1","type":"quantitative"},"y2":{"field":"q3"},"fill":{"field":"k","type":"nominal","scale":{"domain":["W-SN","U-SN","W-RN","U-RN","W-UN","U-UN"],"range":["#ff0000","#ffff00","#000000","#808080","#0000ff","#008000"]},"legend":null}}},
{"mark":{"type":"tick","color":"#ff7f0e","size":13,"thickness":1.5},"encoding":{"y":{"field":"md","type":"quantitative"}}},
{"mark":{"type":"point","shape":"diamond","filled":true,"fill":"#ff7f0e","stroke":"#000","strokeWidth":1,"size":160,"opacity":1},"encoding":{"y":{"field":"mn","type":"quantitative"}}},
{"mark":{"type":"point","shape":"circle","filled":false,"stroke":"#000","strokeWidth":1.2,"size":60,"opacity":1},"encoding":{"y":{"field":"v","type":"quantitative"}}}
]},
{"width":141,"height":147,"transform":[{"filter":"datum.an=='Lac'&&datum.m=='q'"}],
"encoding":{"x":{"field":"k","type":"nominal","scale":{"domain":["W-SN","U-SN","W-RN","U-RN","W-UN","U-UN"],"paddingInner":0,"paddingOuter":0.43},"axis":null}},
"layer":[
{"mark":{"type":"rule","color":"#000","strokeWidth":1.1},"encoding":{"y":{"field":"lo","type":"quantitative","scale":{"domain":[-0.36,1.068],"nice":false,"zero":false},"axis":{"values":[0.0,0.5,1.0],"title":null}},"y2":{"field":"hi"}}},
{"mark":{"type":"tick","color":"#000","size":7,"thickness":1.1},"encoding":{"y":{"field":"lo","type":"quantitative"}}},
{"mark":{"type":"tick","color":"#000","size":7,"thickness":1.1},"encoding":{"y":{"field":"hi","type":"quantitative"}}},
{"mark":{"type":"bar","width":{"band":0.65},"stroke":"#000","strokeWidth":1},"encoding":{"y":{"field":"q1","type":"quantitative"},"y2":{"field":"q3"},"fill":{"field":"k","type":"nominal","scale":{"domain":["W-SN","U-SN","W-RN","U-RN","W-UN","U-UN"],"range":["#ff0000","#ffff00","#000000","#808080","#0000ff","#008000"]},"legend":null}}},
{"mark":{"type":"tick","color":"#ff7f0e","size":13,"thickness":1.5},"encoding":{"y":{"field":"md","type":"quantitative"}}},
{"mark":{"type":"point","shape":"diamond","filled":true,"fill":"#ff7f0e","stroke":"#000","strokeWidth":1,"size":160,"opacity":1},"encoding":{"y":{"field":"mn","type":"quantitative"}}},
{"mark":{"type":"point","shape":"circle","filled":false,"stroke":"#000","strokeWidth":1.2,"size":60,"opacity":1},"encoding":{"y":{"field":"v","type":"quantitative"}}}
]},
{"width":142,"height":147,"transform":[{"filter":"datum.an=='Lac'&&datum.m=='R2'"}],
"encoding":{"x":{"field":"k","type":"nominal","scale":{"domain":["W-SN","U-SN","W-RN","U-RN","W-UN","U-UN"],"paddingInner":0,"paddingOuter":0.4},"axis":null}},
"layer":[
{"mark":{"type":"rule","color":"#000","strokeWidth":1.1},"encoding":{"y":{"field":"lo","type":"quantitative","scale":{"domain":[-0.027,0.412],"nice":false,"zero":false},"axis":{"values":[0.0,0.2,0.4],"title":null}},"y2":{"field":"hi"}}},
{"mark":{"type":"tick","color":"#000","size":7,"thickness":1.1},"encoding":{"y":{"field":"lo","type":"quantitative"}}},
{"mark":{"type":"tick","color":"#000","size":7,"thickness":1.1},"encoding":{"y":{"field":"hi","type":"quantitative"}}},
{"mark":{"type":"bar","width":{"band":0.65},"stroke":"#000","strokeWidth":1},"encoding":{"y":{"field":"q1","type":"quantitative"},"y2":{"field":"q3"},"fill":{"field":"k","type":"nominal","scale":{"domain":["W-SN","U-SN","W-RN","U-RN","W-UN","U-UN"],"range":["#ff0000","#ffff00","#000000","#808080","#0000ff","#008000"]},"legend":null}}},
{"mark":{"type":"tick","color":"#ff7f0e","size":13,"thickness":1.5},"encoding":{"y":{"field":"md","type":"quantitative"}}},
{"mark":{"type":"point","shape":"diamond","filled":true,"fill":"#ff7f0e","stroke":"#000","strokeWidth":1,"size":160,"opacity":1},"encoding":{"y":{"field":"mn","type":"quantitative"}}},
{"mark":{"type":"point","shape":"circle","filled":false,"stroke":"#000","strokeWidth":1.2,"size":60,"opacity":1},"encoding":{"y":{"field":"v","type":"quantitative"}}}
]},
{"width":133,"height":147,"transform":[{"filter":"datum.an=='Lac'&&datum.m=='s'"}],
"encoding":{"x":{"field":"k","type":"nominal","scale":{"domain":["W-SN","U-SN","W-RN","U-RN","W-UN","U-UN"],"paddingInner":0,"paddingOuter":0.276,"align":0.88},"axis":null}},
"layer":[
{"mark":{"type":"rule","color":"#000","strokeWidth":1.1},"encoding":{"y":{"field":"lo","type":"quantitative","scale":{"domain":[0.074,0.713],"nice":false,"zero":false},"axis":{"values":[0.2,0.4,0.6],"title":null}},"y2":{"field":"hi"}}},
{"mark":{"type":"tick","color":"#000","size":7,"thickness":1.1},"encoding":{"y":{"field":"lo","type":"quantitative"}}},
{"mark":{"type":"tick","color":"#000","size":7,"thickness":1.1},"encoding":{"y":{"field":"hi","type":"quantitative"}}},
{"mark":{"type":"bar","width":{"band":0.65},"stroke":"#000","strokeWidth":1},"encoding":{"y":{"field":"q1","type":"quantitative"},"y2":{"field":"q3"},"fill":{"field":"k","type":"nominal","scale":{"domain":["W-SN","U-SN","W-RN","U-RN","W-UN","U-UN"],"range":["#ff0000","#ffff00","#000000","#808080","#0000ff","#008000"]},"legend":null}}},
{"mark":{"type":"tick","color":"#ff7f0e","size":13,"thickness":1.5},"encoding":{"y":{"field":"md","type":"quantitative"}}},
{"mark":{"type":"point","shape":"diamond","filled":true,"fill":"#ff7f0e","stroke":"#000","strokeWidth":1,"size":160,"opacity":1},"encoding":{"y":{"field":"mn","type":"quantitative"}}},
{"mark":{"type":"point","shape":"circle","filled":false,"stroke":"#000","strokeWidth":1.2,"size":60,"opacity":1},"encoding":{"y":{"field":"v","type":"quantitative"}}}
]}
]},
{"width":831,"height":82,
"data":{"values":[
{"g":"water referenced:","n":"ShallowNET-2D2c-hp","k":"W-SN"},
{"g":"water referenced:","n":"ResNet-1D-hp","k":"W-RN"},
{"g":"water referenced:","n":"U-Net-hp","k":"W-UN"},
{"g":"un-referenced:","n":"ShallowNET-2D2c-hp","k":"U-SN"},
{"g":"un-referenced:","n":"ResNet-1D-hp","k":"U-RN"},
{"g":"un-referenced:","n":"U-Net-hp","k":"U-UN"}
]},
"view":{"stroke":"#cccccc","strokeWidth":1.2,"cornerRadius":6},
"encoding":{
"x":{"field":"n","type":"nominal","scale":{"type":"point","domain":["ShallowNET-2D2c-hp","ResNet-1D-hp","U-Net-hp"],"padding":0.659,"align":0.67},"axis":null},
"y":{"field":"g","type":"nominal","scale":{"type":"point","domain":["water referenced:","un-referenced:"],"padding":0.551,"align":0.605},"axis":{"title":null,"domain":false,"ticks":false,"tickSize":0,"labelAlign":"left","labelPadding":-23,"labelFontSize":17,"labelColor":"#000","labelBaseline":"middle"}}},
"layer":[
{"mark":{"type":"square","filled":true,"size":500,"stroke":"#000","strokeWidth":1,"opacity":1},"encoding":{"fill":{"field":"k","type":"nominal","scale":{"domain":["W-SN","U-SN","W-RN","U-RN","W-UN","U-UN"],"range":["#ff0000","#ffff00","#000000","#808080","#0000ff","#008000"]},"legend":null}}},
{"mark":{"type":"text","align":"left","baseline":"middle","dx":21,"fontSize":17,"color":"#000"},"encoding":{"text":{"field":"n"}}}
]}
],
"config":{
"font":"DejaVu Sans",
"numberFormat":".2f",
"view":{"stroke":"#333333","strokeWidth":1.2},
"mark":{"invalid":"filter"},
"axisY":{"labelFontSize":17,"labelColor":"#222","tickColor":"#222","tickSize":5,"labelPadding":3,"domain":false,"grid":false},
"title":{"fontSize":23,"fontWeight":"normal","color":"#000","frame":"group","offset":10}
}
}
